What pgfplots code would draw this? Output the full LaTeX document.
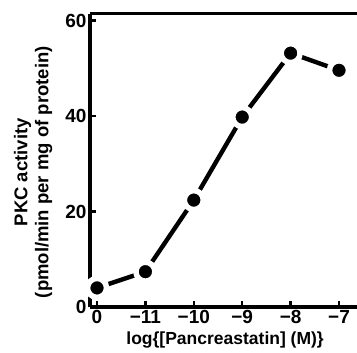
\documentclass[border=0pt]{standalone}
\usepackage{fontspec}
\setmainfont{Liberation Sans}
\usepackage{pgfplots}
\pgfplotsset{compat=1.18}
\begin{document}
\begin{tikzpicture}
\path[use as bounding box] (0,0) rectangle (357bp,353bp);
\begin{axis}[
  at={(90bp,46bp)}, anchor=south west,
  width=267bp, height=293bp, scale only axis,
  xmin=-0.145, xmax=5.372, ymin=0, ymax=61.4,
  axis x line*=bottom, axis y line*=left,
  axis line style={line width=3bp},
  axis on top,
  xtick={0,1,2,3,4,5},
  xticklabels={0,−11,−10,−9,−8,−7},
  ytick={0,20,40,60},
  tick align=inside,
  major tick length=6bp,
  tick style={line width=2.5bp, black},
  /pgf/number format/assume math mode=true,
  tick label style={font=\bfseries\fontsize{19bp}{21bp}\selectfont},
  xlabel={log\{[Pancreastatin] (M)\}},
  ylabel={PKC activity\\(pmol/min per mg of protein)},
  x label style={at={(axis description cs:0.506,-0.113)}, anchor=center, font=\bfseries\fontsize{17.5bp}{20bp}\selectfont},
  y label style={at={(axis description cs:-0.213,0.46)}, anchor=center, align=center, font=\bfseries\fontsize{18.5bp}{21bp}\selectfont},
]
\addplot[black, line width=4.4bp, line cap=round, mark=*, mark size=9.5bp,
  mark options={fill=black, draw=white, line width=5.5bp}]
  coordinates {(0,4.0) (1,7.4) (2,22.4) (3,39.8) (4,53.2) (5,49.6)};
\end{axis}
\draw[line width=3bp] (90bp,339bp) -- (357bp,339bp);
\end{tikzpicture}
\end{document}
